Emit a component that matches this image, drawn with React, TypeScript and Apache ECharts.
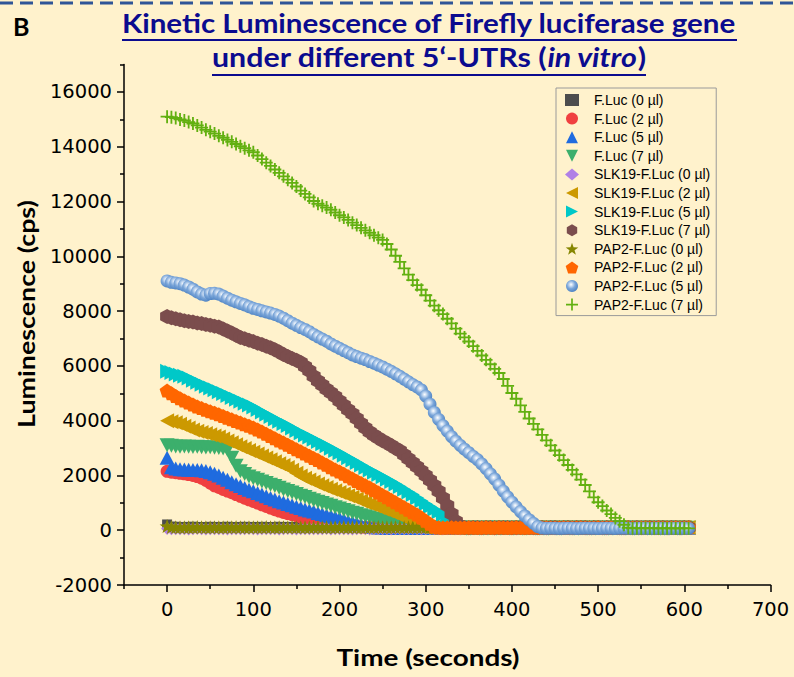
import React, { useEffect, useRef } from "react";
import * as echarts from "echarts";

// Time (seconds)
const TIME = [
  0, 5, 10, 15, 20, 25, 30, 35, 40, 45, 50, 55, 60, 65, 70, 75, 80, 85, 90, 95,
  100, 105, 110, 115, 120, 125, 130, 135, 140, 145, 150, 155, 160, 165, 170, 175, 180, 185, 190, 195,
  200, 205, 210, 215, 220, 225, 230, 235, 240, 245, 250, 255, 260, 265, 270, 275, 280, 285, 290, 295,
  300, 305, 310, 315, 320, 325, 330, 335, 340, 345, 350, 355, 360, 365, 370, 375, 380, 385, 390, 395,
  400, 405, 410, 415, 420, 425, 430, 435, 440, 445, 450, 455, 460, 465, 470, 475, 480, 485, 490, 495,
  500, 505, 510, 515, 520, 525, 530, 535, 540, 545, 550, 555, 560, 565, 570, 575, 580, 585, 590, 595,
  600, 605,
];

const FLUC_0 = [
  210, 130, 125, 120, 118, 122, 126, 120, 115, 119, 123, 120, 117, 121, 125, 119, 116, 120, 124, 118,
  121, 117, 123, 119, 115, 120, 124, 118, 122, 116, 120, 124, 119, 115, 121, 125, 118, 122, 117, 120,
  124, 118, 121, 116, 120, 123, 119, 115, 121, 125, 118, 122, 117, 121, 124, 119, 116, 120, 123, 118,
  121, 116, 120, 124, 119, 115, 122, 118, 121, 125, 119, 117, 121, 124, 118, 122, 116, 120, 123, 119,
  115, 121, 125, 118, 122, 117, 120, 124, 119, 116, 121, 123, 118, 122, 116, 120, 124, 119, 115, 121,
  125, 118, 122, 117, 121, 124, 119, 116, 120, 123, 118, 121, 116, 120, 124, 119, 115, 122, 118, 121,
  125, 119,
];
const FLUC_2 = [
  2150, 2120, 2100, 2080, 2060, 2030, 2000, 1960, 1900, 1820, 1720, 1620, 1560, 1490, 1430, 1370, 1300, 1240, 1170, 1110,
  1050, 990, 930, 870, 810, 750, 700, 650, 610, 570, 530, 490, 450, 420, 390, 360, 340, 320, 300, 280,
  260, 230, 200, 170, 140, 110, 100, 95, 90, 100, 95, 88, 92, 85, 90, 94, 87, 91, 86, 93,
  89, 92, 86, 90, 94, 88, 91, 87, 93, 89, 92, 86, 90, 94, 88, 91, 87, 93, 89, 92,
  86, 90, 94, 88, 91, 87, 93, 89, 92, 86, 90, 94, 88, 91, 87, 93, 89, 92, 86, 90,
  94, 88, 91, 87, 93, 89, 92, 86, 90, 94, 88, 91, 87, 93, 89, 92, 86, 90, 94, 88,
  91, 87,
];
const FLUC_5 = [
  2650, 2300, 2250, 2230, 2220, 2210, 2200, 2200, 2190, 2160, 2120, 2060, 2000, 1920, 1840, 1750, 1680, 1610, 1540, 1480,
  1420, 1360, 1300, 1240, 1180, 1120, 1060, 1010, 960, 910, 860, 810, 760, 720, 680, 630, 590, 550, 510, 470,
  430, 380, 330, 290, 250, 210, 180, 150, 120, 100, 95, 88, 92, 85, 90, 94, 87, 91, 86, 93,
  92, 86, 90, 94, 88, 91, 87, 93, 89, 92, 86, 90, 94, 88, 91, 87, 93, 89, 92, 86,
  90, 94, 88, 91, 87, 93, 89, 92, 86, 90, 94, 88, 91, 87, 93, 89, 92, 86, 90, 94,
  88, 91, 87, 93, 89, 92, 86, 90, 94, 88, 91, 87, 93, 89, 92, 86, 90, 94, 88, 91,
  87, 93,
];
const FLUC_7 = [
  3100, 3080, 3060, 3050, 3060, 3050, 3040, 3050, 3030, 3020, 3030, 3010, 3000, 2980, 2940, 2650, 2350, 2150, 2050, 1960,
  1900, 1840, 1780, 1720, 1660, 1610, 1550, 1490, 1430, 1380, 1320, 1260, 1210, 1150, 1090, 1040, 990, 940, 890, 840,
  790, 740, 690, 640, 600, 550, 510, 470, 430, 390, 350, 310, 280, 240, 200, 160, 120, 100, 90, 95,
  90, 88, 92, 86, 90, 94, 88, 91, 87, 93, 89, 92, 86, 90, 94, 88, 91, 87, 93, 89,
  92, 86, 90, 94, 88, 91, 87, 93, 89, 92, 86, 90, 94, 88, 91, 87, 93, 89, 92, 86,
  90, 94, 88, 91, 87, 93, 89, 92, 86, 90, 94, 88, 91, 87, 93, 89, 92, 86, 90, 94,
  88, 91,
];
const SLK19_0 = [
  60, 55, 50, 58, 52, 48, 55, 60, 53, 49, 56, 51, 58, 54, 47, 52, 57, 50, 55, 59,
  52, 48, 56, 51, 57, 53, 49, 55, 60, 52, 47, 54, 58, 51, 56, 50, 53, 59, 48, 55,
  51, 57, 52, 49, 56, 60, 53, 48, 55, 51, 58, 54, 47, 52, 57, 50, 55, 59, 52, 48,
  56, 51, 57, 53, 49, 55, 60, 52, 47, 54, 58, 51, 56, 50, 53, 59, 48, 55, 51, 57,
  52, 49, 56, 60, 53, 48, 55, 51, 58, 54, 47, 52, 57, 50, 55, 59, 52, 48, 56, 51,
  57, 53, 49, 55, 60, 52, 47, 54, 58, 51, 56, 50, 53, 59, 48, 55, 51, 57, 52, 49,
  56, 60,
];
const SLK19_2 = [
  4000, 3960, 3920, 3870, 3800, 3730, 3660, 3610, 3570, 3530, 3490, 3440, 3400, 3330, 3260, 3190, 3120, 3050, 2980, 2910,
  2850, 2780, 2710, 2640, 2570, 2500, 2430, 2360, 2290, 2190, 2080, 1980, 1900, 1830, 1760, 1690, 1620, 1560, 1500, 1440,
  1380, 1320, 1260, 1200, 1140, 1070, 1000, 950, 890, 830, 770, 710, 650, 580, 510, 440, 360, 280, 200, 130,
  100, 95, 90, 100, 95, 90, 95, 100, 90, 95, 100, 90, 95, 100, 90, 95, 100, 95, 90, 100,
  95, 90, 100, 95, 90, 100, 95, 90, 95, 100, 90, 95, 100, 90, 95, 100, 95, 90, 100, 95,
  90, 100, 95, 90, 95, 100, 90, 95, 100, 90, 95, 100, 90, 95, 100, 90, 95, 100, 95, 90,
  100, 95,
];
const SLK19_5 = [
  5800, 5760, 5700, 5660, 5620, 5560, 5480, 5400, 5330, 5260, 5190, 5130, 5060, 4990, 4920, 4850, 4780, 4710, 4640, 4570,
  4500, 4410, 4320, 4230, 4150, 4060, 3980, 3900, 3820, 3730, 3640, 3560, 3480, 3400, 3320, 3240, 3160, 3080, 2990, 2910,
  2830, 2740, 2650, 2560, 2470, 2380, 2290, 2200, 2120, 2030, 1950, 1860, 1780, 1690, 1600, 1500, 1400, 1300, 1190, 1080,
  970, 870, 770, 670, 570, 480, 390, 300, 220, 140, 90, 85, 80, 90, 85, 80, 85, 90, 80, 85,
  90, 80, 85, 90, 85, 80, 90, 85, 80, 85, 85, 90, 80, 85, 90, 85, 80, 85, 90, 80,
  85, 80, 90, 85, 80, 85, 90, 80, 85, 90, 80, 85, 90, 85, 80, 90, 85, 80, 85, 90,
  85, 80,
];
const SLK19_7 = [
  7800, 7760, 7720, 7680, 7650, 7620, 7600, 7570, 7550, 7510, 7480, 7450, 7420, 7350, 7270, 7200, 7120, 7040, 6990, 6940,
  6890, 6830, 6780, 6720, 6660, 6590, 6510, 6420, 6340, 6270, 6210, 6120, 5980, 5820, 5620, 5450, 5300, 5150, 5020, 4880,
  4720, 4560, 4400, 4250, 4080, 3900, 3730, 3590, 3470, 3370, 3270, 3180, 3090, 2990, 2900, 2760, 2610, 2460, 2320, 2160,
  2000, 1820, 1630, 1420, 1180, 900, 600, 330, 150, 100, 90, 95, 100, 90, 95, 100, 90, 95, 100, 95,
  90, 100, 95, 90, 95, 100, 90, 95, 90, 100, 95, 90, 100, 95, 90, 95, 100, 95, 90, 95,
  100, 90, 95, 100, 95, 90, 95, 100, 90, 95, 90, 100, 95, 90, 100, 95, 90, 95, 100, 90,
  95, 100,
];
const PAP2_0 = [
  150, 115, 110, 108, 112, 106, 110, 114, 108, 111, 107, 113, 109, 105, 112, 108, 114, 110, 106, 111,
  113, 107, 110, 115, 109, 105, 112, 108, 111, 114, 106, 110, 113, 107, 109, 115, 111, 105, 108, 112,
  110, 114, 106, 109, 113, 107, 111, 105, 110, 114, 108, 112, 106, 110, 115, 109, 107, 113, 111, 105,
  108, 112, 110, 114, 106, 109, 113, 107, 111, 105, 110, 114, 108, 112, 106, 110, 115, 109, 107, 113,
  111, 105, 108, 112, 110, 114, 106, 109, 113, 107, 111, 105, 110, 114, 108, 112, 106, 110, 115, 109,
  107, 113, 111, 105, 108, 112, 110, 114, 106, 109, 113, 107, 111, 105, 110, 114, 108, 112, 106, 110,
  115, 109,
];
const PAP2_2 = [
  5100, 5000, 4900, 4820, 4740, 4660, 4590, 4520, 4460, 4400, 4340, 4290, 4230, 4170, 4110, 4050, 3990, 3930, 3870, 3810,
  3750, 3680, 3600, 3520, 3440, 3360, 3280, 3200, 3120, 3040, 2960, 2880, 2800, 2720, 2640, 2560, 2470, 2390, 2300, 2220,
  2140, 2060, 1970, 1890, 1800, 1720, 1640, 1560, 1470, 1380, 1290, 1200, 1110, 1020, 930, 840, 750, 660, 570, 460,
  350, 240, 140, 100, 95, 100, 105, 100, 95, 100, 105, 100, 95, 100, 105, 95, 100, 105, 100, 95,
  100, 105, 95, 100, 100, 105, 95, 100, 105, 100, 95, 100, 105, 100, 95, 100, 105, 95, 100, 100,
  105, 95, 100, 105, 100, 95, 100, 105, 95, 100, 100, 105, 95, 100, 105, 100, 95, 100, 105, 95,
  100, 105,
];
const PAP2_5 = [
  9100, 9050, 9030, 9000, 8950, 8880, 8800, 8700, 8620, 8580, 8640, 8650, 8620, 8550, 8470, 8400, 8340, 8280, 8230, 8160,
  8100, 8060, 8010, 7970, 7930, 7880, 7820, 7740, 7650, 7560, 7480, 7400, 7330, 7250, 7150, 7060, 6980, 6900, 6800, 6720,
  6640, 6560, 6480, 6400, 6340, 6280, 6230, 6160, 6100, 6030, 5960, 5880, 5800, 5710, 5620, 5520, 5420, 5320, 5230, 5120,
  4900, 4600, 4300, 4050, 3820, 3620, 3420, 3250, 3100, 2960, 2830, 2700, 2580, 2420, 2250, 2060, 1870, 1650, 1430, 1220,
  1030, 850, 680, 520, 380, 250, 130, 80, 70, 75, 70, 65, 70, 75, 70, 65, 70, 75, 70, 70,
  65, 70, 75, 70, 65, 70, 75, 70, 65, 70, 75, 70, 65, 70, 75, 70, 65, 70, 75, 70,
  70, 65,
];
const PAP2_7 = [
  15100, 15080, 15050, 15000, 14960, 14900, 14850, 14780, 14700, 14620, 14550, 14480, 14400, 14330, 14250, 14180, 14100, 14020, 13950, 13870,
  13800, 13680, 13550, 13420, 13300, 13170, 13050, 12920, 12800, 12680, 12550, 12400, 12280, 12150, 12020, 11920, 11850, 11780, 11700, 11600,
  11500, 11420, 11330, 11230, 11140, 11040, 10950, 10860, 10770, 10680, 10600, 10450, 10250, 10020, 9800, 9560, 9330, 9130, 8950, 8780,
  8580, 8380, 8200, 8030, 7890, 7720, 7550, 7360, 7180, 7040, 6890, 6720, 6550, 6380, 6220, 6060, 5890, 5740, 5520, 5270,
  5010, 4800, 4560, 4320, 4080, 3880, 3680, 3480, 3280, 3100, 2910, 2740, 2560, 2380, 2200, 2040, 1850, 1650, 1420, 1200,
  1020, 880, 720, 590, 450, 330, 200, 90, 70, 75, 70, 80, 70, 75, 65, 70, 75, 70, 65, 70,
  75, 70,
];

const X_LABELS = [0, 100, 200, 300, 400, 500, 600, 700];
const X_MINOR = [-50, 50, 150, 250, 350, 450, 550, 650];
const Y_LABELS = [-2000, 0, 2000, 4000, 6000, 8000, 10000, 12000, 14000, 16000];
const Y_MINOR = [-1000, 1000, 3000, 5000, 7000, 9000, 11000, 13000, 15000, 17000];

const UP = "path://M50,0L100,100L0,100Z";
const DOWN = "path://M0,0L100,0L50,100Z";
const LEFT = "path://M0,50L100,0L100,100Z";
const RIGHT = "path://M0,0L100,50L0,100Z";
const HEX = "path://M50,0L93.3,25L93.3,75L50,100L6.7,75L6.7,25Z";
const STAR =
  "path://M50,0L61.76,33.82L97.55,34.55L69.02,56.18L79.39,90.45L50,70L20.61,90.45L30.98,56.18L2.45,34.55L38.24,33.82Z";
const PENT = "path://M50,0L97.55,34.55L79.39,90.45L20.61,90.45L2.45,34.55Z";
const PLUS = "path://M43,0H57V43H100V57H57V100H43V57H0V43H43Z";

const SPHERE = {
  type: "radial",
  x: 0.42,
  y: 0.38,
  r: 0.62,
  colorStops: [
    { offset: 0, color: "#FFFFFF" },
    { offset: 0.18, color: "#D4E3F5" },
    { offset: 0.55, color: "#7BA6D9" },
    { offset: 1, color: "#4F84C4" },
  ],
};

const SERIES = [
  { name: "F.Luc (0 µl)", data: FLUC_0, symbol: "rect", size: 10, color: "#4D4D4D" },
  { name: "F.Luc (2 µl)", data: FLUC_2, symbol: "circle", size: 13, color: "#F04040" },
  { name: "F.Luc (5 µl)", data: FLUC_5, symbol: UP, size: [15, 14], color: "#1F6BDF" },
  { name: "F.Luc (7 µl)", data: FLUC_7, symbol: DOWN, size: [15, 14], color: "#3CAF6C" },
  { name: "SLK19-F.Luc (0 µl)", data: SLK19_0, symbol: "diamond", size: [12, 13], color: "#B080E6" },
  { name: "SLK19-F.Luc (2 µl)", data: SLK19_2, symbol: LEFT, size: [14, 15], color: "#CC9900" },
  { name: "SLK19-F.Luc (5 µl)", data: SLK19_5, symbol: RIGHT, size: [14, 15], color: "#00C8C8" },
  { name: "SLK19-F.Luc (7 µl)", data: SLK19_7, symbol: HEX, size: [14, 15], color: "#7B4D4D" },
  { name: "PAP2-F.Luc (0 µl)", data: PAP2_0, symbol: STAR, size: [15, 14], color: "#868600" },
  { name: "PAP2-F.Luc (2 µl)", data: PAP2_2, symbol: PENT, size: [15, 14], color: "#FF6600" },
  { name: "PAP2-F.Luc (5 µl)", data: PAP2_5, symbol: "circle", size: 13, color: SPHERE },
  { name: "PAP2-F.Luc (7 µl)", data: PAP2_7, symbol: PLUS, size: 13, color: "#62B010" },
];

const TITLE_COLOR = "#0B0B8F";

function measure(text: string, font: string): number {
  const ctx = document.createElement("canvas").getContext("2d");
  if (!ctx) return text.length * 10;
  ctx.font = font;
  return ctx.measureText(text).width;
}

export default function App() {
  const ref = useRef<HTMLDivElement>(null);

  useEffect(() => {
    if (!ref.current) return;
    const chart = echarts.init(ref.current, null, { renderer: "svg" });

    const tFont = "bold 26px Lato";
    const tiFont = "italic bold 26px Lato";
    const line1 = "Kinetic Luminescence of Firefly luciferase gene";
    const s1 = 615 / measure(line1, tFont);
    const p1 = "under different 5‘-UTRs (";
    const p2 = "in vitro";
    const p3 = ")";
    const w1 = measure(p1, tFont);
    const w2 = measure(p2, tiFont);
    const w3 = measure(p3, tFont);
    const s2 = 434 / (w1 + w2 + w3);
    const axFont = "bold 23px Lato";
    const yName = "Luminescence (cps)";
    const sy = 228 / measure(yName, axFont);
    const xName = "Time (seconds)";
    const sx = 183 / measure(xName, axFont);

    const txt = (text: string, font: string, x: number) => ({
      type: "text",
      x,
      y: 0,
      style: { text, font, fill: TITLE_COLOR, textAlign: "left", textVerticalAlign: "middle", align: "left", verticalAlign: "middle" },
    });

    chart.setOption({
      animation: false,
      backgroundColor: "#FFF2CC",
      grid: { left: 124, right: 23.5, top: 64.6, bottom: 92 },
      xAxis: [
        {
          type: "value",
          min: -50,
          max: 700,
          axisLine: { show: true, onZero: false, lineStyle: { color: "#000", width: 1.5 } },
          axisTick: { show: true, length: 7, customValues: X_LABELS, lineStyle: { color: "#000", width: 1.5 } },
          axisLabel: { customValues: X_LABELS, fontFamily: "DejaVu Sans", fontSize: 19.5, color: "#000", margin: 14 },
          splitLine: { show: false },
        },
        {
          type: "value",
          min: -50,
          max: 700,
          position: "bottom",
          axisLine: { show: false, onZero: false },
          axisTick: { show: true, length: 4, customValues: X_MINOR, lineStyle: { color: "#000", width: 1.5 } },
          axisLabel: { show: false },
          splitLine: { show: false },
        },
      ],
      yAxis: [
        {
          type: "value",
          min: -2000,
          max: 17000,
          axisLine: { show: true, onZero: false, lineStyle: { color: "#000", width: 1.5 } },
          axisTick: { show: true, length: 7, customValues: Y_LABELS, lineStyle: { color: "#000", width: 1.5 } },
          axisLabel: {
            customValues: Y_LABELS,
            formatter: (v: number) => String(v),
            fontFamily: "DejaVu Sans",
            fontSize: 19.5,
            color: "#000",
            margin: 12,
          },
          splitLine: { show: false },
        },
        {
          type: "value",
          min: -2000,
          max: 17000,
          position: "left",
          axisLine: { show: false, onZero: false },
          axisTick: { show: true, length: 4, customValues: Y_MINOR, lineStyle: { color: "#000", width: 1.5 } },
          axisLabel: { show: false },
          splitLine: { show: false },
        },
      ],
      legend: {
        orient: "vertical",
        left: 556,
        top: 88,
        padding: [5, 6, 4, 9],
        itemWidth: 14,
        itemHeight: 12,
        itemGap: 4.6,
        borderColor: "#9A9A9A",
        borderWidth: 1,
        backgroundColor: "#FFF2CC",
        textStyle: { fontFamily: "Liberation Sans", fontSize: 14, color: "#000", padding: [0, 0, 0, 10] },
        data: SERIES.map((s) => s.name),
      },
      series: SERIES.map((s) => ({
        type: "scatter",
        name: s.name,
        xAxisIndex: 0,
        yAxisIndex: 0,
        symbol: s.symbol,
        symbolSize: s.size,
        itemStyle: { color: s.color, opacity: 1 },
        data: TIME.map((t, i) => [t, s.data[i]]),
      })),
      graphic: [
        {
          type: "line",
          shape: { x1: 0, y1: 3, x2: 794, y2: 3 },
          style: { stroke: "#2F5597", lineWidth: 3, lineDash: [13, 7] },
        },
        {
          type: "text",
          x: 13,
          y: 26,
          style: { text: "B", font: "bold 25px Lato", fill: "#000", textAlign: "left", textVerticalAlign: "middle", align: "left", verticalAlign: "middle" },
        },
        { ...txt(line1, tFont, 122), y: 23, scaleX: s1 },
        { type: "line", shape: { x1: 122, y1: 40, x2: 737, y2: 40 }, style: { stroke: TITLE_COLOR, lineWidth: 2 } },
        {
          type: "group",
          x: 212,
          y: 57,
          scaleX: s2,
          children: [txt(p1, tFont, 0), txt(p2, tiFont, w1), txt(p3, tFont, w1 + w2)],
        },
        { type: "line", shape: { x1: 212, y1: 75, x2: 646, y2: 75 }, style: { stroke: TITLE_COLOR, lineWidth: 2 } },
        {
          type: "text",
          x: 26,
          y: 314,
          rotation: Math.PI / 2,
          scaleX: sy,
          style: { text: yName, font: axFont, fill: "#000", textAlign: "center", textVerticalAlign: "middle", align: "center", verticalAlign: "middle" },
        },
        {
          type: "text",
          x: 428,
          y: 657,
          scaleX: sx,
          style: { text: xName, font: axFont, fill: "#000", textAlign: "center", textVerticalAlign: "middle", align: "center", verticalAlign: "middle" },
        },
      ],
    });

    return () => chart.dispose();
  }, []);

  return (
    <div
      ref={ref}
      style={{ position: "fixed", left: 0, top: 0, width: 794, height: 677 }}
    />
  );
}
